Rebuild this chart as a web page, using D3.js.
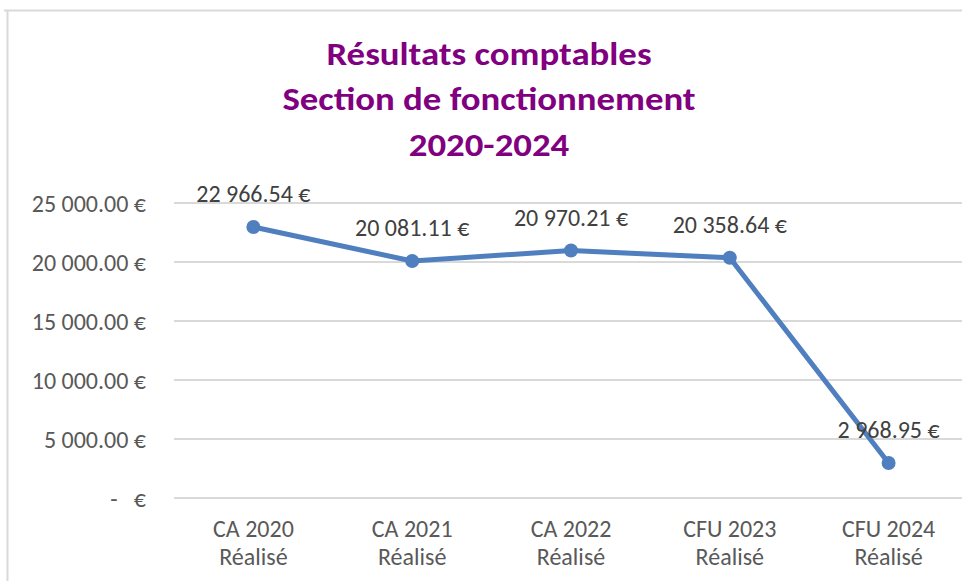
<!DOCTYPE html>
<meta charset="utf-8">
<style>
body { margin: 0; background: #fff; }
text { font-family: Calibri, Carlito, "Liberation Sans Narrow", "Open Sans", sans-serif; }
.tick text { fill: #595959; font-size: 24px; white-space: pre; }
.axis path { display: none; }
.grid line { stroke: #d9d9d9; stroke-width: 2; }
</style>
<body>
<svg id="svg" width="962" height="581"></svg>
<script src="https://cdn.jsdelivr.net/npm/d3@7"></script>
<script>
// chart data
const categories = ["CA 2020|Réalisé", "CA 2021|Réalisé", "CA 2022|Réalisé", "CFU 2023|Réalisé", "CFU 2024|Réalisé"];
const values = [22966.54, 20081.11, 20970.21, 20358.64, 2968.95];
const yTicks = [0, 5000, 10000, 15000, 20000, 25000];
const titleLines = ["Résultats comptables", "Section de fonctionnement", "2020-2024"];

const svg = d3.select("#svg");
const margin = {top: 203, right: -6, bottom: 83, left: 174};
const width = 962 - margin.left - margin.right,
      height = 581 - margin.top - margin.bottom;

// outer frame (cropped on right/bottom)
svg.append("line").attr("x1", 4).attr("x2", 962).attr("y1", 10.5).attr("y2", 10.5)
   .attr("stroke", "#d9d9d9").attr("stroke-width", 2);
svg.append("line").attr("x1", 7.5).attr("x2", 7.5).attr("y1", 10).attr("y2", 581)
   .attr("stroke", "#d9d9d9").attr("stroke-width", 2);

// title (slightly widened like the original)
svg.append("g")
  .attr("transform", "translate(489,0) scale(1.15,1)")
  .append("text")
  .attr("text-anchor", "middle")
  .attr("fill", "#800080")
  .style("font-size", "32px")
  .style("font-weight", "bold")
  .selectAll("tspan")
  .data(titleLines)
  .enter().append("tspan")
    .attr("x", 0)
    .attr("y", (d, i) => 65 + i * 45.5)
    .text(d => d);

const g = svg.append("g").attr("transform", "translate(" + margin.left + "," + margin.top + ")");

const x = d3.scaleBand().domain(categories).range([0, width]).padding(0);
const y = d3.scaleLinear().domain([0, 25000]).range([height, 0]);

const fmt = v => {
  if (v === 0) return "-\u00A0\u00A0\u00A0€";
  const s = d3.format(",.2f")(v).replace(/,/g, "\u00A0");
  return s + "\u00A0€";
};

// gridlines
g.append("g").attr("class", "grid")
  .selectAll("line").data(yTicks).enter().append("line")
    .attr("x1", 0).attr("x2", width + 10)
    .attr("y1", d => y(d)).attr("y2", d => y(d));

// y axis
g.append("g").attr("class", "axis")
  .attr("transform", "translate(-28,0)")
  .call(d3.axisLeft(y).tickValues(yTicks).tickSize(0).tickPadding(0).tickFormat(fmt))
  .selectAll("text").attr("dy", "0.35em");

// x axis
const xa = g.append("g").attr("class", "axis")
  .attr("transform", "translate(0," + height + ")")
  .call(d3.axisBottom(x).tickSize(0).tickFormat(""));
xa.selectAll(".tick").each(function(d) {
  const t = d3.select(this).select("text").text(null).attr("y", 0).attr("dy", null);
  d.split("|").forEach((part, i) => {
    t.append("tspan").attr("x", 0).attr("y", 39 + i * 28).text(part);
  });
});

// line
const cx = (d, i) => x(categories[i]) + x.bandwidth() / 2;
g.append("path")
  .datum(values)
  .attr("fill", "none")
  .attr("stroke", "#4f7fbf")
  .attr("stroke-width", 5)
  .attr("stroke-linejoin", "round")
  .attr("d", d3.line().x(cx).y(d => y(d)));

g.selectAll(".dot").data(values).enter().append("circle")
  .attr("class", "dot")
  .attr("cx", cx).attr("cy", d => y(d)).attr("r", 7)
  .attr("fill", "#4f7fbf");

// data labels
g.selectAll(".lbl").data(values).enter().append("text")
  .attr("class", "lbl")
  .attr("text-anchor", "middle")
  .attr("fill", "#404040")
  .style("font-size", "24px")
  .attr("x", cx).attr("y", d => y(d) - 25)
  .text(fmt);
</script>
</body>
